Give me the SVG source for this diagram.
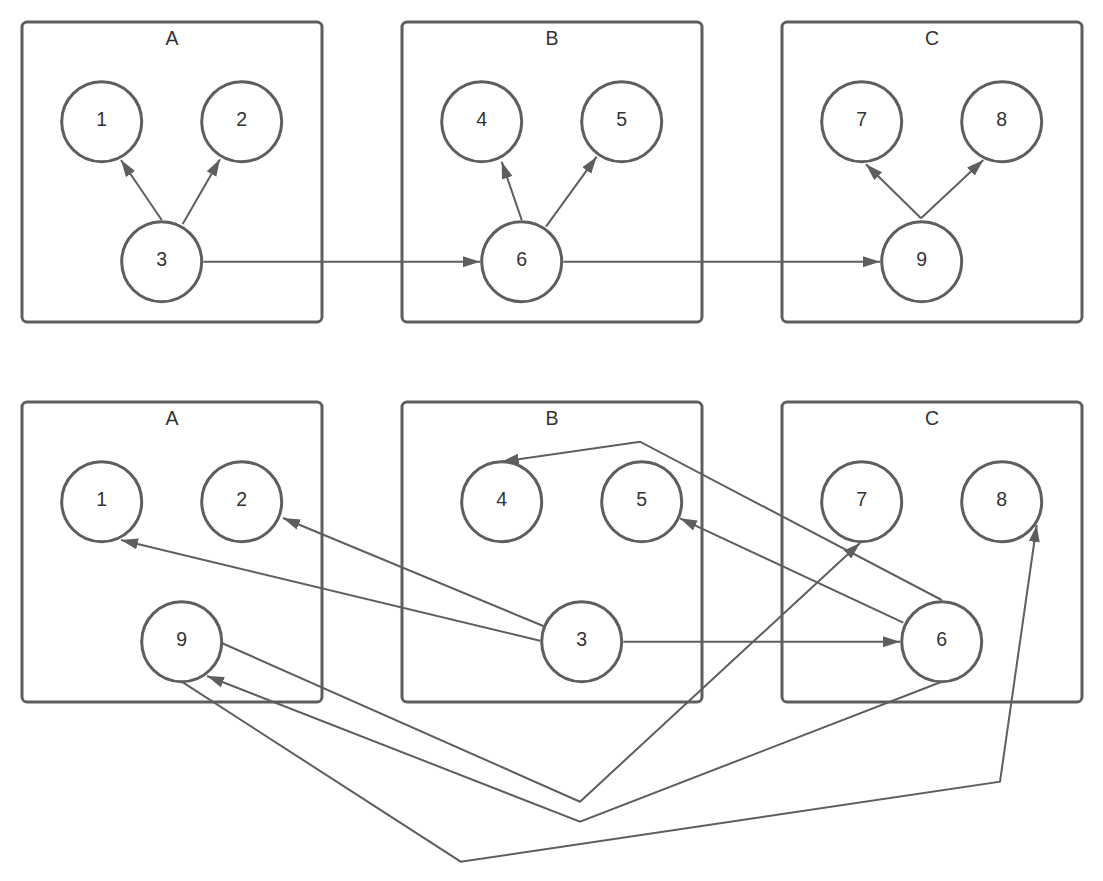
<svg xmlns="http://www.w3.org/2000/svg" width="1103" height="881" viewBox="0 0 1103 881">
<style>
.box{fill:#ffffff;stroke:#5e5e5e;stroke-width:3}
.node{fill:#ffffff;stroke:#5e5e5e;stroke-width:3}
.lbl{font-family:"Liberation Sans",Arial,sans-serif;font-size:19.5px;fill:#333333;text-anchor:middle}
.edge{fill:none;stroke:#5e5e5e;stroke-width:2;marker-end:url(#arr)}
</style>
<defs>
<marker id="arr" markerUnits="userSpaceOnUse" markerWidth="18" markerHeight="12" refX="17" refY="5.5" orient="auto">
<path d="M0,0 L17,5.5 L0,11 Z" fill="#5e5e5e"/>
</marker>
</defs>
<rect width="1103" height="881" fill="#ffffff"/>
<g id="groups">
<g id="top-A"><rect class="box" x="22" y="22" width="300" height="300" rx="5"/><text class="lbl" x="172" y="45">A</text></g>
<g id="top-B"><rect class="box" x="402" y="22" width="300" height="300" rx="5"/><text class="lbl" x="552" y="45">B</text></g>
<g id="top-C"><rect class="box" x="782" y="22" width="300" height="300" rx="5"/><text class="lbl" x="932" y="45">C</text></g>
<g id="bot-A"><rect class="box" x="22" y="402" width="300" height="300" rx="5"/><text class="lbl" x="172" y="425">A</text></g>
<g id="bot-B"><rect class="box" x="402" y="402" width="300" height="300" rx="5"/><text class="lbl" x="552" y="425">B</text></g>
<g id="bot-C"><rect class="box" x="782" y="402" width="300" height="300" rx="5"/><text class="lbl" x="932" y="425">C</text></g>
</g>
<g id="connectors">
<path class="edge" d="M161.7,220 L121,160"/>
<path class="edge" d="M182.7,224 L220,159.3"/>
<path class="edge" d="M203.4,261.7 L480,261.7"/>
<path class="edge" d="M521.7,220 L501.7,161.7"/>
<path class="edge" d="M546,226.7 L596.7,156.7"/>
<path class="edge" d="M563.4,261.7 L880,261.7"/>
<path class="edge" d="M921,218.3 L866,164.3"/>
<path class="edge" d="M921,218.3 L983.3,160"/>
<path class="edge" d="M540,640.7 L121,540"/>
<path class="edge" d="M543.3,626 L283,518"/>
<path class="edge" d="M623.4,641.7 L900,641.7"/>
<path class="edge" d="M903.3,622.7 L680,518.3"/>
<path class="edge" d="M941.7,600 L640,441.7 L501.7,461.7"/>
<path class="edge" d="M221.7,643 L580,801.7 L860,543"/>
<path class="edge" d="M941.7,681.7 L580,821.7 L207,676"/>
<path class="edge" d="M181.7,681.7 L460.7,861.7 L1000,781.7 L1036.7,525"/>
</g>
<g id="n-top-1"><circle class="node" cx="101.7" cy="121.7" r="40"/><text class="lbl" x="101.7" y="125.5">1</text></g>
<g id="n-top-2"><circle class="node" cx="241.7" cy="121.7" r="40"/><text class="lbl" x="241.7" y="125.5">2</text></g>
<g id="n-top-3"><circle class="node" cx="161.7" cy="261.7" r="40"/><text class="lbl" x="161.7" y="265.5">3</text></g>
<g id="n-top-4"><circle class="node" cx="481.7" cy="121.7" r="40"/><text class="lbl" x="481.7" y="125.5">4</text></g>
<g id="n-top-5"><circle class="node" cx="621.7" cy="121.7" r="40"/><text class="lbl" x="621.7" y="125.5">5</text></g>
<g id="n-top-6"><circle class="node" cx="521.7" cy="261.7" r="40"/><text class="lbl" x="521.7" y="265.5">6</text></g>
<g id="n-top-7"><circle class="node" cx="861.7" cy="121.7" r="40"/><text class="lbl" x="861.7" y="125.5">7</text></g>
<g id="n-top-8"><circle class="node" cx="1001.7" cy="121.7" r="40"/><text class="lbl" x="1001.7" y="125.5">8</text></g>
<g id="n-top-9"><circle class="node" cx="921.7" cy="261.7" r="40"/><text class="lbl" x="921.7" y="265.5">9</text></g>
<g id="n-bot-1"><circle class="node" cx="101.7" cy="501.7" r="40"/><text class="lbl" x="101.7" y="505.5">1</text></g>
<g id="n-bot-2"><circle class="node" cx="241.7" cy="501.7" r="40"/><text class="lbl" x="241.7" y="505.5">2</text></g>
<g id="n-bot-9"><circle class="node" cx="181.7" cy="641.7" r="40"/><text class="lbl" x="181.7" y="645.5">9</text></g>
<g id="n-bot-4"><circle class="node" cx="501.7" cy="501.7" r="40"/><text class="lbl" x="501.7" y="505.5">4</text></g>
<g id="n-bot-5"><circle class="node" cx="641.7" cy="501.7" r="40"/><text class="lbl" x="641.7" y="505.5">5</text></g>
<g id="n-bot-3"><circle class="node" cx="581.7" cy="641.7" r="40"/><text class="lbl" x="581.7" y="645.5">3</text></g>
<g id="n-bot-7"><circle class="node" cx="861.7" cy="501.7" r="40"/><text class="lbl" x="861.7" y="505.5">7</text></g>
<g id="n-bot-8"><circle class="node" cx="1001.7" cy="501.7" r="40"/><text class="lbl" x="1001.7" y="505.5">8</text></g>
<g id="n-bot-6"><circle class="node" cx="941.7" cy="641.7" r="40"/><text class="lbl" x="941.7" y="645.5">6</text></g>
</svg>
